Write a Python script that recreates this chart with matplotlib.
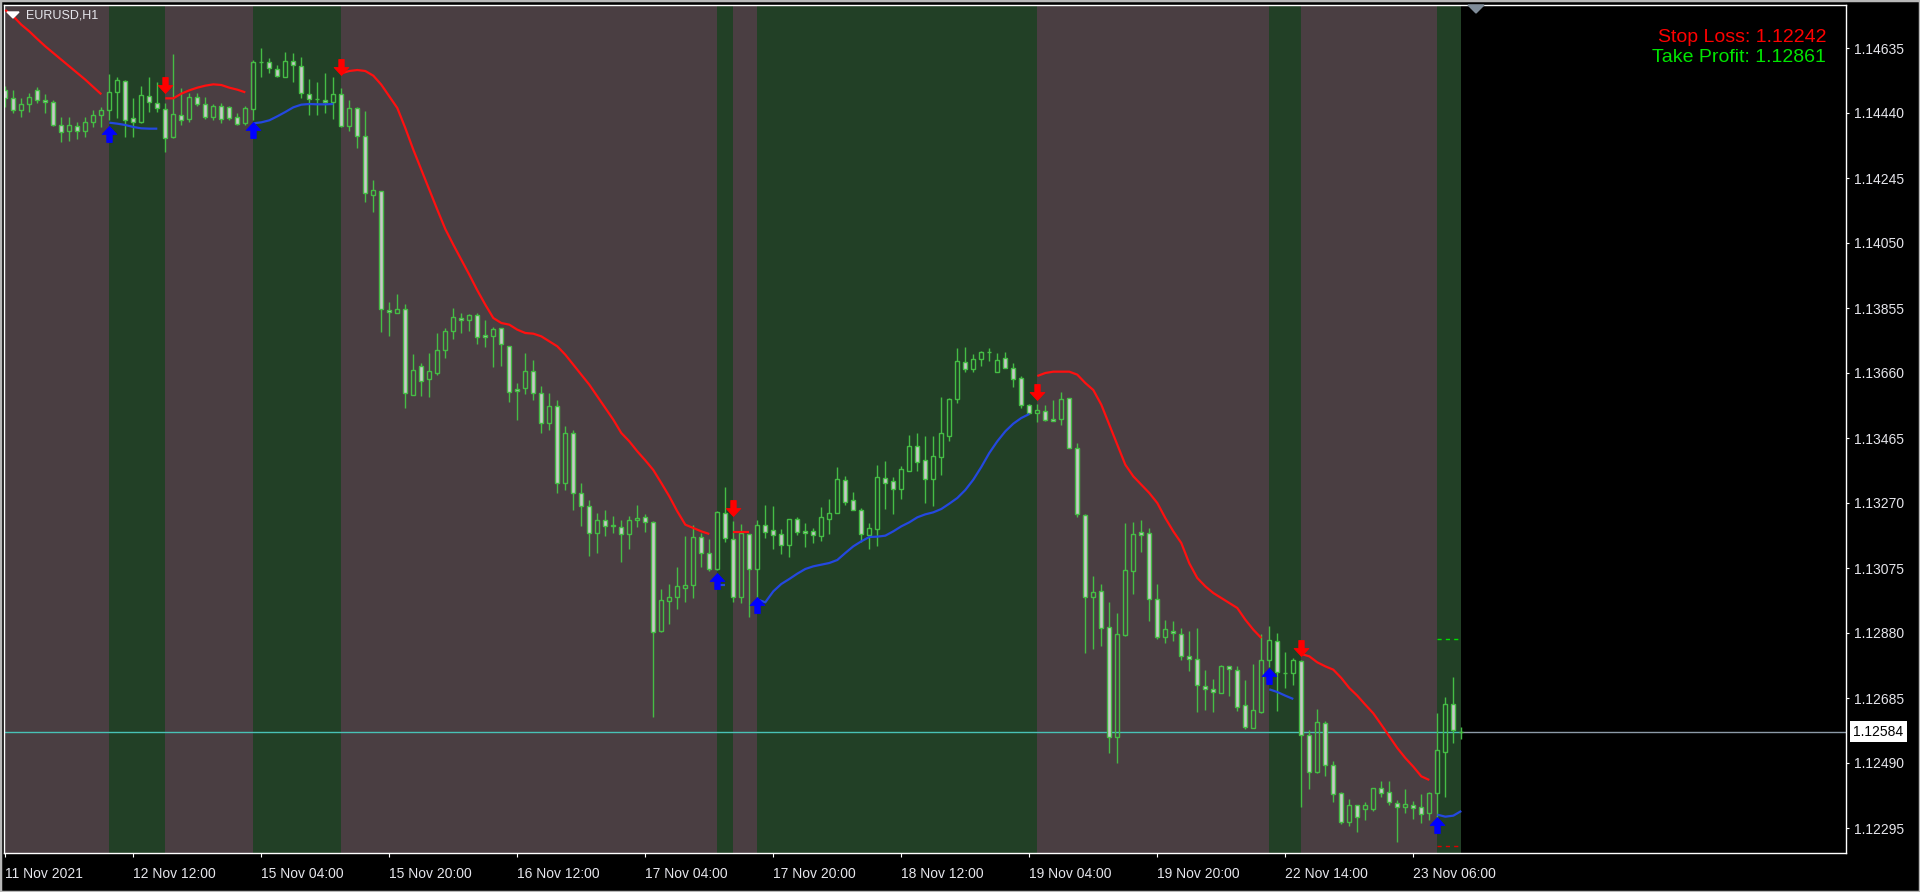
import matplotlib
matplotlib.use("Agg")
import matplotlib.pyplot as plt
from matplotlib.path import Path
from matplotlib.patches import Polygon, Rectangle
import numpy as np

plt.rcParams['font.family'] = ['Liberation Sans', 'DejaVu Sans']

# ---------------- data ----------------
symbol = "EURUSD,H1"
time_label_bars = [0, 16, 32, 48, 64, 80, 96, 112, 128, 144, 160, 176]
time_labels = ["11 Nov 2021", "12 Nov 12:00", "15 Nov 04:00", "15 Nov 20:00",
               "16 Nov 12:00", "17 Nov 04:00", "17 Nov 20:00", "18 Nov 12:00",
               "19 Nov 04:00", "19 Nov 20:00", "22 Nov 14:00", "23 Nov 06:00"]

open_ = [
    1.14509, 1.14484, 1.14449, 1.14467, 1.14509, 1.14479, 1.14472, 1.14403, 1.14385, 1.14400,
    1.14385, 1.14412, 1.14434, 1.14449, 1.14504, 1.14536, 1.14424, 1.14412, 1.14492, 1.14469,
    1.14451, 1.14367, 1.14433, 1.14421, 1.14487, 1.14466, 1.14427, 1.14461, 1.14458, 1.14427,
    1.14409, 1.14451, 1.14592, 1.14592, 1.14573, 1.14549, 1.14595, 1.14580, 1.14496, 1.14482,
    1.14479, 1.14472, 1.14496, 1.14402, 1.14454, 1.14370, 1.14195, 1.14205, 1.13848, 1.13841,
    1.13851, 1.13595, 1.13680, 1.13643, 1.13661, 1.13728, 1.13785, 1.13824, 1.13820, 1.13833,
    1.13773, 1.13772, 1.13794, 1.13742, 1.13611, 1.13614, 1.13665, 1.13600, 1.13510, 1.13560,
    1.13330, 1.13480, 1.13300, 1.13260, 1.13180, 1.13220, 1.13200, 1.13199, 1.13178, 1.13218,
    1.13227, 1.13212, 1.12886, 1.12977, 1.12987, 1.13016, 1.13023, 1.13169, 1.13121, 1.13073,
    1.13239, 1.13163, 1.12989, 1.13176, 1.13073, 1.13203, 1.13188, 1.13178, 1.13143, 1.13221,
    1.13185, 1.13187, 1.13172, 1.13223, 1.13241, 1.13338, 1.13278, 1.13248, 1.13175, 1.13191,
    1.13344, 1.13335, 1.13313, 1.13367, 1.13440, 1.13398, 1.13343, 1.13409, 1.13472, 1.13583,
    1.13692, 1.13671, 1.13701, 1.13722, 1.13662, 1.13704, 1.13674, 1.13644, 1.13563, 1.13539,
    1.13545, 1.13522, 1.13521, 1.13584, 1.13434, 1.13233, 1.12989, 1.13005, 1.12897, 1.12567,
    1.12874, 1.13067, 1.13182, 1.13179, 1.12981, 1.12867, 1.12887, 1.12876, 1.12810, 1.12801,
    1.12720, 1.12712, 1.12701, 1.12780, 1.12768, 1.12663, 1.12596, 1.12644, 1.12798, 1.12855,
    1.12759, 1.12759, 1.12795, 1.12574, 1.12464, 1.12609, 1.12483, 1.12399, 1.12312, 1.12363,
    1.12351, 1.12351, 1.12414, 1.12402, 1.12369, 1.12357, 1.12363, 1.12357, 1.12339, 1.12399,
    1.12524, 1.12668, 1.12584]

high = [
    1.14521, 1.14509, 1.14484, 1.14499, 1.14517, 1.14497, 1.14479, 1.14427, 1.14427, 1.14413,
    1.14427, 1.14449, 1.14459, 1.14557, 1.14549, 1.14539, 1.14484, 1.14521, 1.14549, 1.14534,
    1.14469, 1.14617, 1.14514, 1.14499, 1.14499, 1.14489, 1.14467, 1.14469, 1.14461, 1.14441,
    1.14461, 1.14599, 1.14634, 1.14604, 1.14584, 1.14624, 1.14619, 1.14607, 1.14541, 1.14534,
    1.14561, 1.14547, 1.14514, 1.14479, 1.14457, 1.14446, 1.14239, 1.14205, 1.13873, 1.13897,
    1.13867, 1.13717, 1.13690, 1.13720, 1.13780, 1.13794, 1.13855, 1.13840, 1.13836, 1.13839,
    1.13819, 1.13797, 1.13794, 1.13742, 1.13630, 1.13720, 1.13700, 1.13620, 1.13600, 1.13580,
    1.13500, 1.13490, 1.13330, 1.13280, 1.13240, 1.13250, 1.13230, 1.13219, 1.13231, 1.13264,
    1.13237, 1.13216, 1.13012, 1.13027, 1.13078, 1.13170, 1.13204, 1.13181, 1.13161, 1.13245,
    1.13318, 1.13217, 1.13207, 1.13176, 1.13219, 1.13264, 1.13261, 1.13191, 1.13223, 1.13227,
    1.13209, 1.13194, 1.13259, 1.13282, 1.13379, 1.13351, 1.13303, 1.13254, 1.13211, 1.13384,
    1.13396, 1.13349, 1.13381, 1.13474, 1.13480, 1.13471, 1.13471, 1.13589, 1.13584, 1.13735,
    1.13739, 1.13717, 1.13726, 1.13735, 1.13719, 1.13722, 1.13689, 1.13651, 1.13567, 1.13566,
    1.13564, 1.13579, 1.13604, 1.13584, 1.13449, 1.13236, 1.13050, 1.13027, 1.12973, 1.12940,
    1.13211, 1.13213, 1.13219, 1.13194, 1.13027, 1.12919, 1.12916, 1.12894, 1.12886, 1.12894,
    1.12769, 1.12742, 1.12784, 1.12780, 1.12780, 1.12739, 1.12787, 1.12876, 1.12901, 1.12879,
    1.12822, 1.12805, 1.12799, 1.12589, 1.12653, 1.12617, 1.12496, 1.12404, 1.12383, 1.12365,
    1.12374, 1.12414, 1.12436, 1.12436, 1.12379, 1.12411, 1.12375, 1.12396, 1.12402, 1.12641,
    1.12689, 1.12747, 1.12597]

low = [
    1.14457, 1.14441, 1.14427, 1.14444, 1.14469, 1.14441, 1.14401, 1.14354, 1.14357, 1.14361,
    1.14369, 1.14399, 1.14399, 1.14419, 1.14424, 1.14369, 1.14367, 1.14411, 1.14444, 1.14444,
    1.14324, 1.14364, 1.14404, 1.14414, 1.14461, 1.14422, 1.14419, 1.14409, 1.14419, 1.14404,
    1.14404, 1.14419, 1.14547, 1.14559, 1.14549, 1.14547, 1.14534, 1.14484, 1.14434, 1.14434,
    1.14439, 1.14421, 1.14399, 1.14387, 1.14336, 1.14174, 1.14144, 1.13784, 1.13772, 1.13839,
    1.13556, 1.13595, 1.13592, 1.13589, 1.13655, 1.13706, 1.13763, 1.13781, 1.13787, 1.13748,
    1.13739, 1.13679, 1.13682, 1.13572, 1.13519, 1.13596, 1.13580, 1.13480, 1.13490, 1.13300,
    1.13310, 1.13250, 1.13200, 1.13110, 1.13120, 1.13170, 1.13180, 1.13094, 1.13133, 1.13197,
    1.13184, 1.12629, 1.12884, 1.12907, 1.12953, 1.12974, 1.12986, 1.13077, 1.13067, 1.13070,
    1.13152, 1.12974, 1.12971, 1.12927, 1.12969, 1.13166, 1.13133, 1.13118, 1.13107, 1.13175,
    1.13137, 1.13151, 1.13157, 1.13177, 1.13239, 1.13264, 1.13248, 1.13154, 1.13132, 1.13142,
    1.13252, 1.13238, 1.13283, 1.13367, 1.13367, 1.13271, 1.13262, 1.13355, 1.13457, 1.13571,
    1.13664, 1.13664, 1.13681, 1.13697, 1.13662, 1.13674, 1.13619, 1.13554, 1.13537, 1.13514,
    1.13515, 1.13515, 1.13505, 1.13434, 1.13227, 1.12821, 1.12833, 1.12842, 1.12519, 1.12491,
    1.12871, 1.12997, 1.13124, 1.12917, 1.12863, 1.12851, 1.12857, 1.12799, 1.12767, 1.12644,
    1.12649, 1.12644, 1.12699, 1.12692, 1.12647, 1.12593, 1.12596, 1.12641, 1.12779, 1.12647,
    1.12716, 1.12725, 1.12357, 1.12413, 1.12459, 1.12452, 1.12374, 1.12307, 1.12302, 1.12284,
    1.12319, 1.12345, 1.12389, 1.12363, 1.12254, 1.12339, 1.12323, 1.12311, 1.12318, 1.12317,
    1.12389, 1.12549, 1.12561]

close = [
    1.14484, 1.14449, 1.14466, 1.14487, 1.14479, 1.14473, 1.14403, 1.14383, 1.14403, 1.14385,
    1.14412, 1.14434, 1.14449, 1.14502, 1.14538, 1.14419, 1.14412, 1.14495, 1.14472, 1.14454,
    1.14364, 1.14436, 1.14418, 1.14487, 1.14466, 1.14427, 1.14461, 1.14423, 1.14424, 1.14406,
    1.14454, 1.14592, 1.14593, 1.14574, 1.14551, 1.14595, 1.14583, 1.14499, 1.14483, 1.14482,
    1.14472, 1.14496, 1.14402, 1.14454, 1.14372, 1.14199, 1.14208, 1.13851, 1.13842, 1.13851,
    1.13599, 1.13668, 1.13635, 1.13665, 1.13728, 1.13785, 1.13827, 1.13818, 1.13833, 1.13767,
    1.13767, 1.13792, 1.13746, 1.13604, 1.13605, 1.13665, 1.13600, 1.13510, 1.13560, 1.13330,
    1.13480, 1.13300, 1.13260, 1.13180, 1.13220, 1.13200, 1.13205, 1.13176, 1.13218, 1.13224,
    1.13214, 1.12884, 1.12978, 1.12987, 1.13020, 1.13023, 1.13169, 1.13119, 1.13073, 1.13242,
    1.13164, 1.12987, 1.13179, 1.13073, 1.13203, 1.13184, 1.13175, 1.13143, 1.13221, 1.13182,
    1.13179, 1.13173, 1.13227, 1.13239, 1.13341, 1.13274, 1.13248, 1.13176, 1.13194, 1.13347,
    1.13331, 1.13313, 1.13371, 1.13440, 1.13394, 1.13343, 1.13410, 1.13479, 1.13581, 1.13695,
    1.13671, 1.13701, 1.13722, 1.13722, 1.13698, 1.13674, 1.13641, 1.13563, 1.13539, 1.13548,
    1.13518, 1.13515, 1.13581, 1.13434, 1.13236, 1.12987, 1.13002, 1.12894, 1.12567, 1.12876,
    1.13069, 1.13177, 1.13173, 1.12981, 1.12867, 1.12891, 1.12879, 1.12811, 1.12801, 1.12723,
    1.12713, 1.12704, 1.12781, 1.12771, 1.12659, 1.12599, 1.12648, 1.12798, 1.12858, 1.12762,
    1.12759, 1.12798, 1.12574, 1.12462, 1.12612, 1.12483, 1.12396, 1.12312, 1.12363, 1.12329,
    1.12363, 1.12414, 1.12401, 1.12372, 1.12357, 1.12366, 1.12354, 1.12337, 1.12399, 1.12528,
    1.12668, 1.12589, 1.12584]

bid = 1.12584
stop_loss = 1.12242
take_profit = 1.12861

y_ticks = [1.12295, 1.12490, 1.12685, 1.12880, 1.13075, 1.13270, 1.13465,
           1.13660, 1.13855, 1.14050, 1.14245, 1.14440, 1.14635]

initial_trend = "down"
trend_switch_bars = [13, 20, 31, 42, 89, 91, 94, 129, 158, 162, 179]
trend_after_switch = ["up", "down", "up", "down", "up", "down", "up", "down", "up", "down", "up"]

# trailing stop lines (first bar index, values)
red_stop_starts = [0, 20, 42, 91, 129, 162]
red_stop_1 = [1.14749, 1.14730, 1.14705, 1.14685, 1.14662, 1.14640, 1.14620, 1.14600,
              1.14580, 1.14560, 1.14540, 1.14518, 1.14496]
red_stop_2 = [1.14484, 1.14484, 1.14498, 1.14508, 1.14516, 1.14522, 1.14526, 1.14524,
              1.14516, 1.14510, 1.14502]
red_stop_3 = [1.14559, 1.14566, 1.14569, 1.14566, 1.14552, 1.14525, 1.14490, 1.14455,
              1.14395, 1.14330, 1.14270, 1.14210, 1.14150, 1.14092, 1.14045, 1.14000,
              1.13955, 1.13908, 1.13865, 1.13825, 1.13810, 1.13805, 1.13790, 1.13780,
              1.13778, 1.13770, 1.13755, 1.13740, 1.13715, 1.13685, 1.13655, 1.13625,
              1.13590, 1.13555, 1.13520, 1.13480, 1.13455, 1.13425, 1.13398, 1.13369,
              1.13330, 1.13290, 1.13245, 1.13205, 1.13195, 1.13185, 1.13177]
red_stop_4 = [1.13184, 1.13184, 1.13184]
red_stop_5 = [1.13651, 1.13660, 1.13664, 1.13664, 1.13664, 1.13655, 1.13630, 1.13609,
              1.13565, 1.13505, 1.13445, 1.13385, 1.13350, 1.13325, 1.13300, 1.13270,
              1.13225, 1.13185, 1.13150, 1.13089, 1.13045, 1.13020, 1.13000, 1.12985,
              1.12970, 1.12955, 1.12920, 1.12890, 1.12865]
red_stop_6 = [1.12817, 1.12810, 1.12792, 1.12780, 1.12770, 1.12745, 1.12715, 1.12692,
              1.12665, 1.12639, 1.12605, 1.12570, 1.12535, 1.12505, 1.12479, 1.12450,
              1.12439]

blue_stop_starts = [13, 31, 89, 94, 158, 179]
blue_stop_1 = [1.14411, 1.14408, 1.14404, 1.14398, 1.14394, 1.14393, 1.14393]
blue_stop_2 = [1.14409, 1.14412, 1.14418, 1.14430, 1.14443, 1.14457, 1.14465, 1.14467,
               1.14466, 1.14466, 1.14467]
blue_stop_3 = [1.13024, 1.13024]
blue_stop_4 = [1.12981, 1.12972, 1.13005, 1.13027, 1.13042, 1.13058, 1.13072, 1.13080,
               1.13085, 1.13090, 1.13099, 1.13120, 1.13140, 1.13155, 1.13168, 1.13169,
               1.13172, 1.13185, 1.13200, 1.13212, 1.13227, 1.13236, 1.13242, 1.13252,
               1.13268, 1.13285, 1.13309, 1.13340, 1.13378, 1.13420, 1.13455, 1.13485,
               1.13508, 1.13525, 1.13537]
blue_stop_5 = [1.12711, 1.12703, 1.12692, 1.12682]
blue_stop_6 = [1.12335, 1.12329, 1.12332, 1.12346]

buy_arrow_bars = [13, 31, 89, 94, 158, 179]
buy_arrow_prices = [1.14401, 1.14414, 1.13061, 1.12987, 1.12774, 1.12329]
sell_arrow_bars = [20, 42, 91, 129, 162]
sell_arrow_prices = [1.14499, 1.14554, 1.13231, 1.13579, 1.12810]

# ---------------- style ----------------
W, H = 1920, 892
L_PX, R_PX, T_PX, B_PX = 4, 1846, 5, 853
BAR_PX, FIRST_BAR_PX = 8.0, 5.3
down_bg = '#4A3E42'
up_bg = '#224026'
candle_line = '#45BD45'
bear_fill = '#C8C8C8'
text_col = '#E6E6EC'

fig = plt.figure(figsize=(W / 100, H / 100), dpi=100, facecolor='black')
ax = fig.add_axes([L_PX / W, 1 - B_PX / H, (R_PX - L_PX) / W, (B_PX - T_PX) / H],
                  facecolor='black')
x_lo = (L_PX - FIRST_BAR_PX) / BAR_PX
x_hi = (R_PX - FIRST_BAR_PX) / BAR_PX
ax.set_xlim(x_lo, x_hi)
ax.set_ylim(1.12220, 1.14764)

n = len(close)
bars = np.arange(n)
last_bar = n - 1
o = np.array(open_); h = np.array(high); l = np.array(low); c = np.array(close)

# background trend bands
edges = [x_lo] + trend_switch_bars + [last_bar]
trends = [initial_trend] + trend_after_switch
for x0, x1, tr in zip(edges[:-1], edges[1:], trends):
    ax.axvspan(x0, x1, color=up_bg if tr == 'up' else down_bg, lw=0, zorder=0)

# bid line
ax.hlines(bid, x_lo, last_bar, color='#48C2B6', lw=1.0, zorder=1)
ax.hlines(bid, last_bar, x_hi, color='#8C9AA8', lw=1.0, zorder=1)

# candles: wicks outside the body, hollow bull bodies, grey-filled bear bodies
body_top = np.maximum(o, c)
body_bot = np.minimum(o, c)
ax.vlines(bars, body_top, h, color=candle_line, lw=1.0, zorder=2)
ax.vlines(bars, l, body_bot, color=candle_line, lw=1.0, zorder=2)
bull = c >= o
body_h = np.maximum(body_top - body_bot, 1e-7)
ax.bar(bars[bull], body_h[bull], bottom=body_bot[bull], width=0.5,
       facecolor='none', edgecolor=candle_line, linewidth=1.0, zorder=2)
ax.bar(bars[~bull], body_h[~bull], bottom=body_bot[~bull], width=0.5,
       facecolor=bear_fill, edgecolor=candle_line, linewidth=1.0, zorder=2)

# trailing stop lines
for s, seg in zip(red_stop_starts, [red_stop_1, red_stop_2, red_stop_3, red_stop_4, red_stop_5, red_stop_6]):
    ax.plot(np.arange(s, s + len(seg)), seg, color='#FF1010', lw=1.6, zorder=3,
            solid_capstyle='butt')
for s, seg in zip(blue_stop_starts, [blue_stop_1, blue_stop_2, blue_stop_3, blue_stop_4, blue_stop_5, blue_stop_6]):
    ax.plot(np.arange(s, s + len(seg)), seg, color='#2448E0', lw=1.6, zorder=3,
            solid_capstyle='butt')

# arrows (tip at the data point)
up_verts = [(0, 0), (6, -6.5), (2.2, -6.5), (2.2, -13), (-2.2, -13), (-2.2, -6.5), (-6, -6.5), (0, 0)]
codes = [Path.MOVETO] + [Path.LINETO] * 6 + [Path.CLOSEPOLY]
up_arrow = Path(up_verts, codes)
down_arrow = Path([(x, -y) for x, y in up_verts], codes)
ax.plot(buy_arrow_bars, buy_arrow_prices, ls='none', marker=up_arrow, ms=23,
        color='#0000FF', mew=0.6, zorder=4)
ax.plot(sell_arrow_bars, sell_arrow_prices, ls='none', marker=down_arrow, ms=23,
        color='#FF0000', mew=0.6, zorder=4)

# SL / TP levels on the last signal
ax.hlines(take_profit, trend_switch_bars[-1], last_bar, color='#00E000', lw=1.0,
          linestyles=(0, (3, 3)), zorder=3)
ax.hlines(stop_loss, trend_switch_bars[-1], last_bar, color='#E00000', lw=1.0,
          linestyles=(0, (3, 3)), zorder=3)

# axes styling
for sp in ax.spines.values():
    sp.set_color('white')
    sp.set_linewidth(1.0)
ax.yaxis.tick_right()
ax.set_yticks(y_ticks)
ax.set_yticklabels([f'{v:.5f}' for v in y_ticks])
ax.set_xticks(time_label_bars)
ax.set_xticklabels(time_labels)
ax.tick_params(axis='y', colors='white', labelcolor=text_col, length=2.5, width=0.8,
               pad=3.5, labelsize=10)
ax.tick_params(axis='x', colors='white', labelcolor=text_col, length=3, width=0.8,
               pad=7.0, labelsize=10)
for t in ax.get_xticklabels():
    t.set_horizontalalignment('left')

# bid price label
ax.annotate(f'{bid:.5f}', xy=(1.0, bid), xycoords=('axes fraction', 'data'),
            xytext=(7, 0), textcoords='offset pixels', ha='left', va='center',
            fontsize=10, color='black',
            bbox=dict(boxstyle='square,pad=0.25', fc='white', ec='none'), zorder=5,
            annotation_clip=False)

# header texts
def fx(px):
    return px / W

def fy(py):
    return 1 - py / H

fig.text(fx(26), fy(16), symbol, color=text_col, fontsize=9, ha='left', va='center')
fig.add_artist(Polygon([[fx(7), fy(12)], [fx(19), fy(12)], [fx(13), fy(18)]],
                       closed=True, color='white', transform=fig.transFigure))
fig.add_artist(Polygon([[fx(1468), fy(5)], [fx(1484), fy(5)], [fx(1476), fy(13)]],
                       closed=True, color='#7F8C99', transform=fig.transFigure))
fig.text(fx(1826), fy(37), f'Stop Loss: {stop_loss:.5f}', color='#FF0000',
         fontsize=14, ha='right', va='center')
fig.text(fx(1826), fy(57.5), f'Take Profit: {take_profit:.5f}', color='#00E600',
         fontsize=14, ha='right', va='center')

# window frame
fig.add_artist(Rectangle((0, 0), 1, 1, transform=fig.transFigure, fill=False,
                         ec='#B8B8B8', lw=2.5))

fig.savefig('out.png', dpi=100, facecolor='black')
